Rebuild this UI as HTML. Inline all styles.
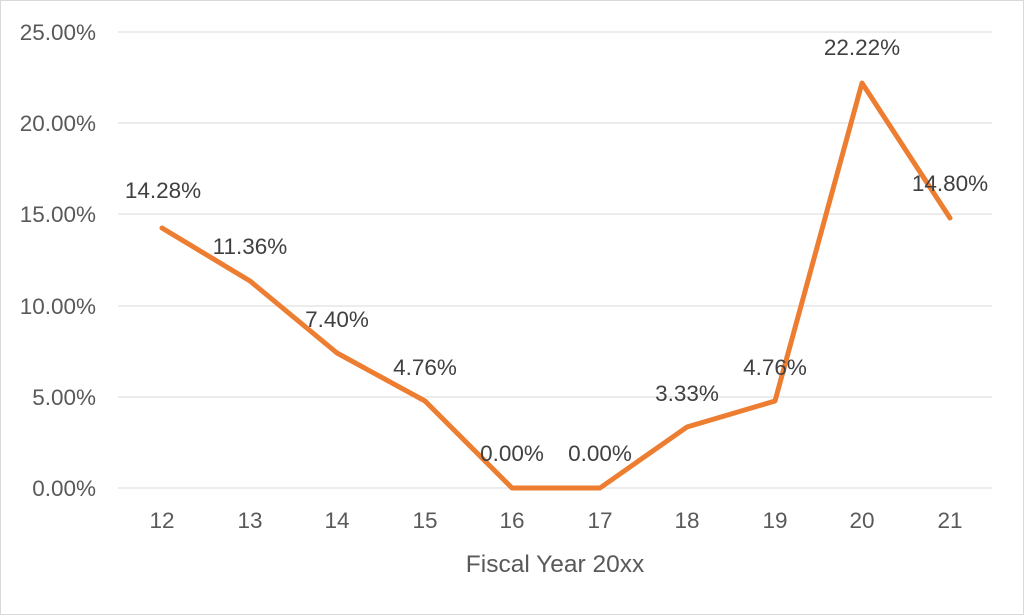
<!DOCTYPE html>
<html><head><style>
html,body{margin:0;padding:0;background:#fff;}
svg{display:block;font-family:"Liberation Sans",sans-serif;}
</style></head><body>
<svg width="1024" height="615" viewBox="0 0 1024 615">
<rect x="0.5" y="0.5" width="1023" height="614" fill="#fff" stroke="#d9d9d9"/>
<g stroke="#d9d9d9" stroke-width="1">
<line x1="118" y1="32" x2="992" y2="32"/>
<line x1="118" y1="123" x2="992" y2="123"/>
<line x1="118" y1="214" x2="992" y2="214"/>
<line x1="118" y1="306" x2="992" y2="306"/>
<line x1="118" y1="397" x2="992" y2="397"/>
<line x1="118" y1="488" x2="992" y2="488"/>
</g>
<g fill="#595959" font-size="22.5" text-anchor="end">
<text x="96" y="40">25.00%</text>
<text x="96" y="131">20.00%</text>
<text x="96" y="222">15.00%</text>
<text x="96" y="314">10.00%</text>
<text x="96" y="405">5.00%</text>
<text x="96" y="496">0.00%</text>
</g>
<g fill="#595959" font-size="22.5" text-anchor="middle">
<text x="162" y="528">12</text><text x="250" y="528">13</text><text x="337" y="528">14</text>
<text x="425" y="528">15</text><text x="512" y="528">16</text><text x="600" y="528">17</text>
<text x="687" y="528">18</text><text x="775" y="528">19</text><text x="862" y="528">20</text>
<text x="950" y="528">21</text>
<text x="555" y="572" font-size="24.5">Fiscal Year 20xx</text>
</g>
<polyline fill="none" stroke="#ed7d31" stroke-width="5" stroke-linejoin="round" stroke-linecap="round"
points="162,228 250,281 337,353 425,401 512,488 600,488 687,427 775,401 862,83 950,218"/>
<g fill="#404040" font-size="22.5" text-anchor="middle">
<text x="163" y="198">14.28%</text>
<text x="250" y="254">11.36%</text>
<text x="337" y="327">7.40%</text>
<text x="425" y="375">4.76%</text>
<text x="512" y="461">0.00%</text>
<text x="600" y="461">0.00%</text>
<text x="687" y="401">3.33%</text>
<text x="775" y="375">4.76%</text>
<text x="862" y="55">22.22%</text>
<text x="950" y="191">14.80%</text>
</g>
</svg>
</body></html>
